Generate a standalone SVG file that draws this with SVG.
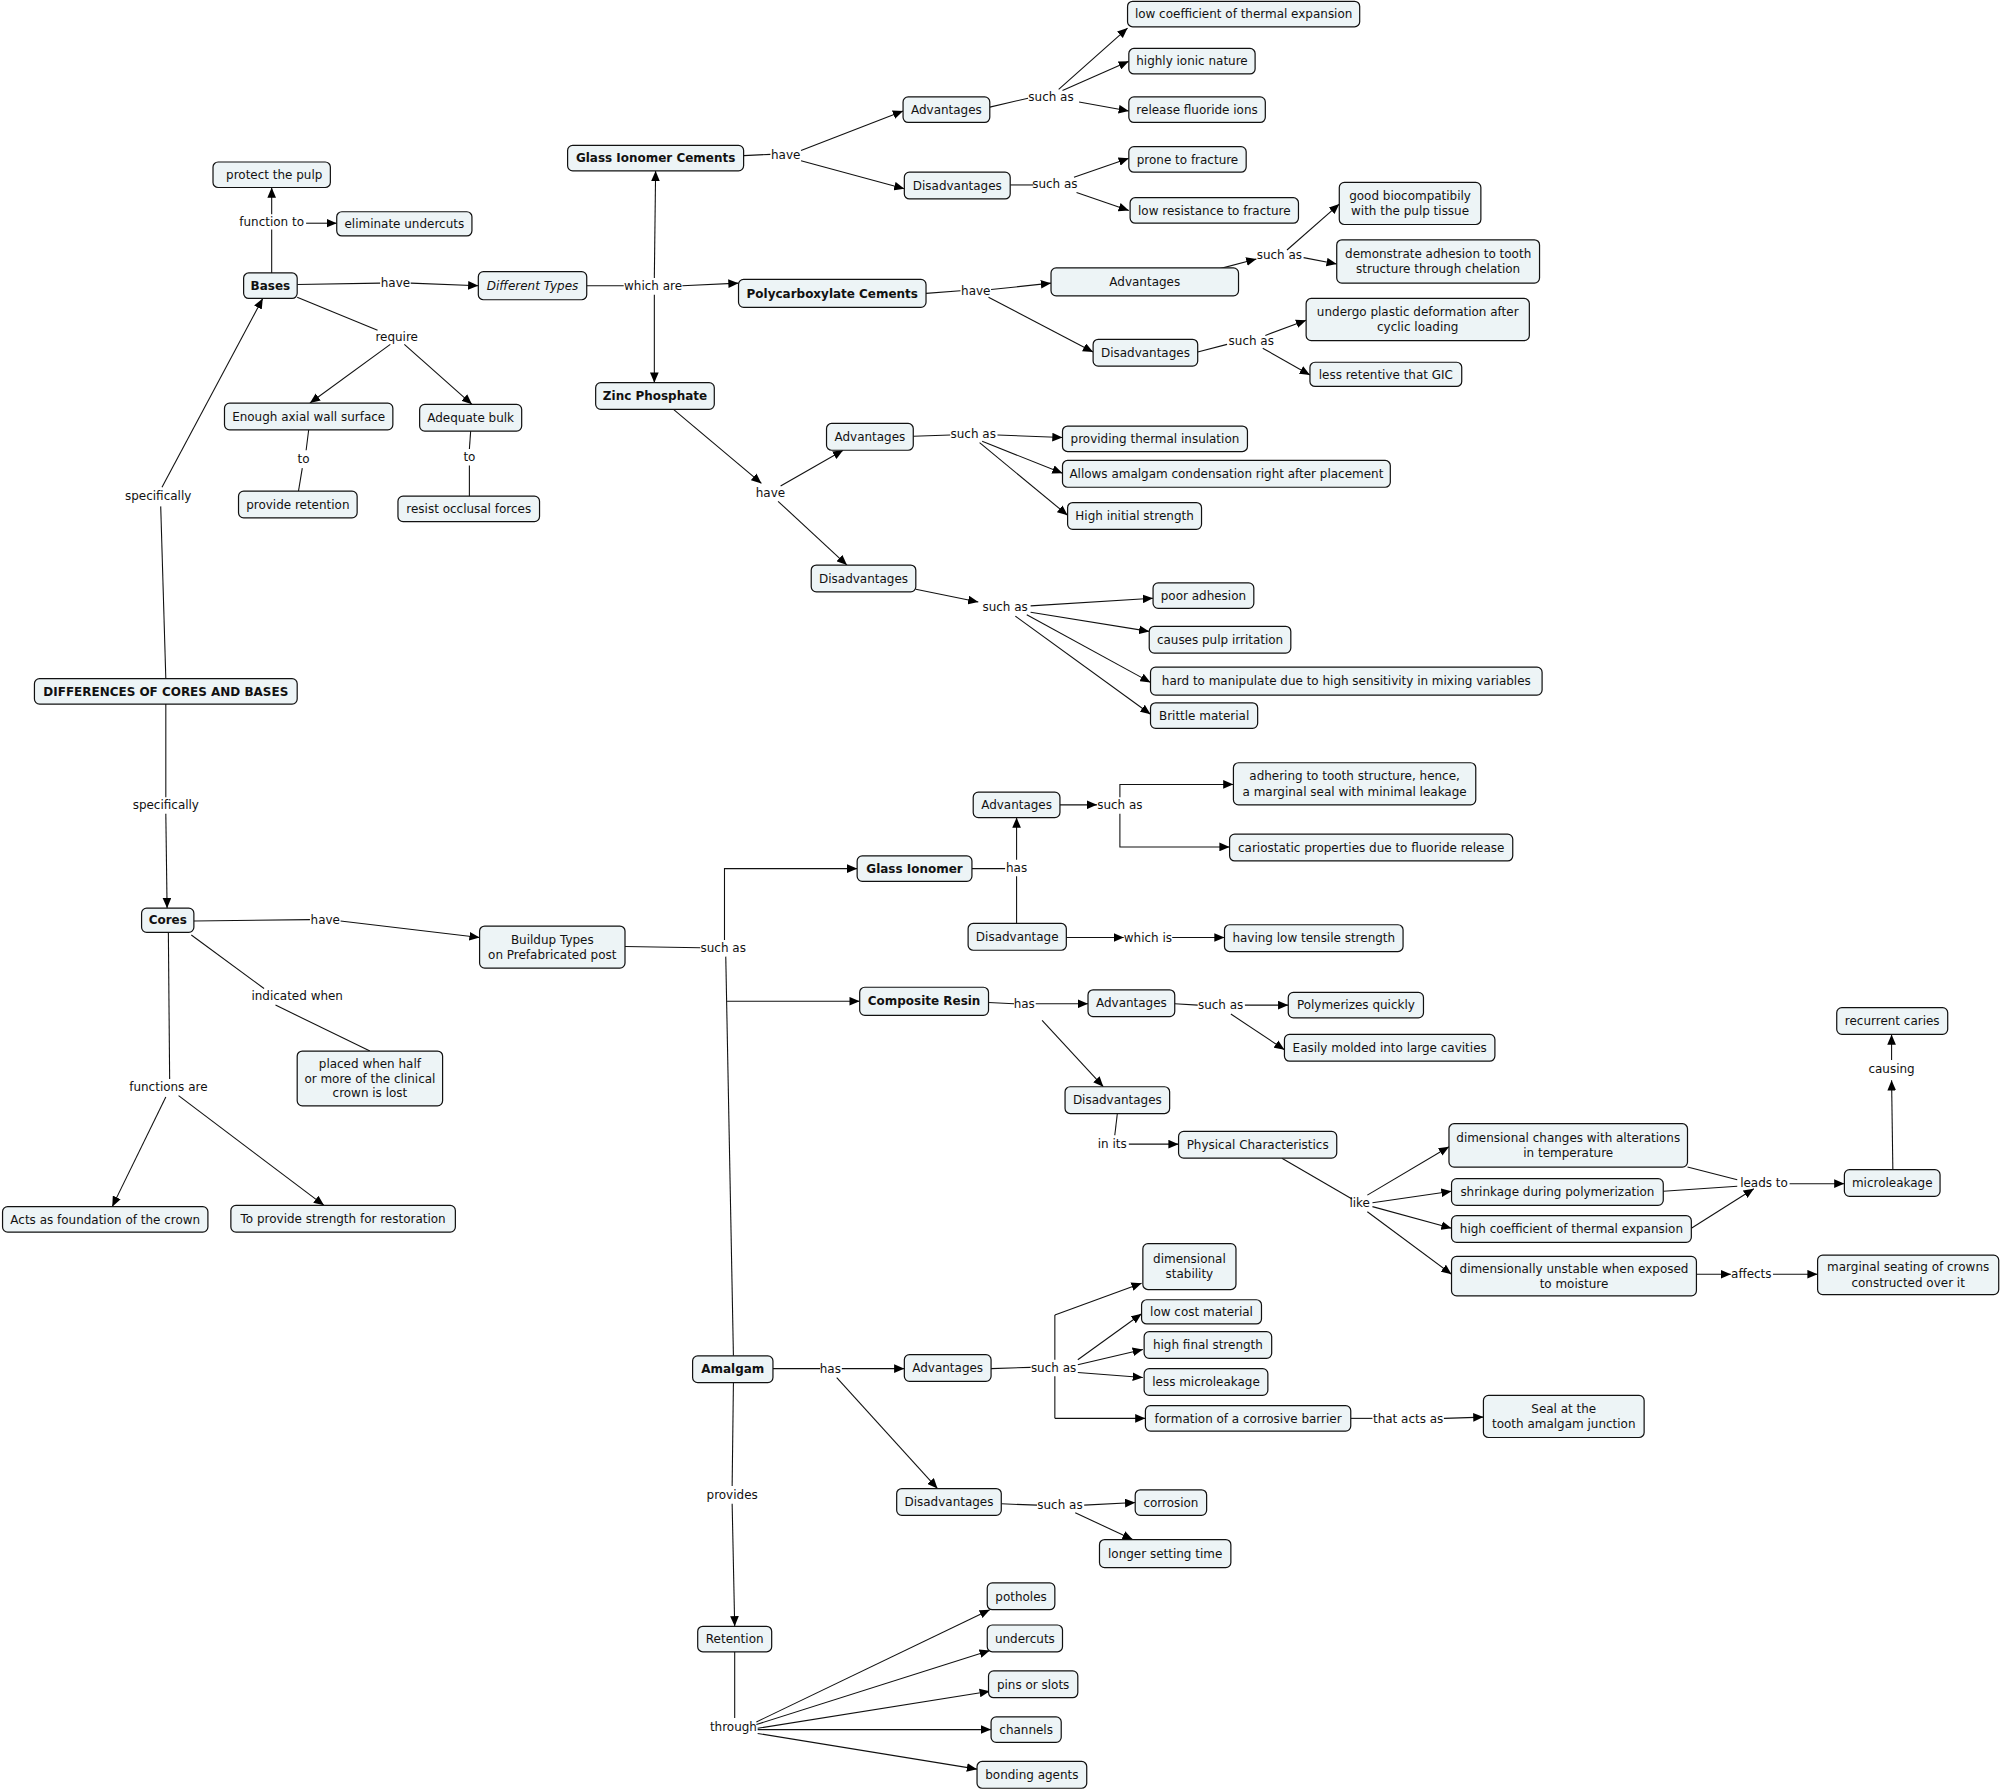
<svg xmlns="http://www.w3.org/2000/svg" width="2000" height="1792" viewBox="0 0 2000 1792">
<defs>
<style>
.n rect{fill:#edf4f6;stroke:#111;stroke-width:0.95}
text{font-family:"DejaVu Sans",Verdana,sans-serif;font-size:9.4px;fill:#111;text-anchor:middle}
.b{font-weight:bold}
.i{font-style:italic}
.l{fill:none;stroke:#111;stroke-width:0.85}
.a{marker-end:url(#ah)}
</style>
<marker id="ah" markerUnits="userSpaceOnUse" markerWidth="8" markerHeight="7" refX="8" refY="3.4" orient="auto" viewBox="0 0 8 6.8">
<path d="M0,0 L8,3.4 L0,6.8 z" fill="#000"/>
</marker>
</defs>
<rect width="2000" height="1792" fill="#fff"/>
<g transform="scale(1.27551)">
<g id="connectors">
<path class="l" d="M213,214 L213,180"/>
<path class="l" d="M233,223 L298,222"/>
<path class="l" d="M233,233 L296,259"/>
<path class="l" d="M242,337 L240,353"/>
<path class="l" d="M237,367 L234,385"/>
<path class="l" d="M369,338 L368,352"/>
<path class="l" d="M368,365 L368,389"/>
<path class="l" d="M460,224 L489,224"/>
<path class="l" d="M130,532 L126,397"/>
<path class="l" d="M130,552 L130,625"/>
<path class="l" d="M152,722 L243,721"/>
<path class="l" d="M150,733 L207,775"/>
<path class="l" d="M216,788 L290,824"/>
<path class="l" d="M132,731 L133,846"/>
<path class="l" d="M490,742 L549,743"/>
<path class="l" d="M569,750 L575,1063"/>
<path class="l" d="M762,681 L788,681"/>
<path class="l" d="M797,724 L797,687"/>
<path class="l" d="M776,84 L806,77"/>
<path class="l" d="M583,122 L604,121"/>
<path class="l" d="M792,145 L810,145"/>
<path class="l" d="M726,230 L753,228"/>
<path class="l" d="M939,276 L962,270"/>
<path class="l" d="M716,342 L745,341"/>
<path class="l" d="M775,786 L795,787"/>
<path class="l" d="M921,787 L939,788"/>
<path class="l" d="M876,873 L874,890"/>
<path class="l" d="M1005,908 L1060,940"/>
<path class="l" d="M1323,915 L1362,925"/>
<path class="l" d="M1304,934 L1362,930"/>
<path class="l" d="M606,1073 L643,1073"/>
<path class="l" d="M777,1073 L808,1072"/>
<path class="l" d="M1059,1112 L1076,1112"/>
<path class="l" d="M785,1179 L813,1180"/>
<path class="l" d="M575,1084 L574,1165"/>
<path class="l" d="M576,1295 L576,1347"/>
<path class="l" d="M827,1031 L827,1066"/>
<path class="l" d="M827,1079 L827,1112"/>

<path class="l a" d="M213,168 L213,147"/>
<path class="l a" d="M240,175 L264,175"/>
<path class="l a" d="M322,222 L375,224"/>
<path class="l a" d="M306,270 L243,316"/>
<path class="l a" d="M317,270 L370,317"/>
<path class="l a" d="M535,224 L579,222"/>
<path class="l a" d="M513,218 L514,134"/>
<path class="l a" d="M513,231 L513,300"/>
<path class="l a" d="M127,382 L206,234"/>
<path class="l a" d="M130,638 L131,712"/>
<path class="l a" d="M267,722 L376,735"/>
<path class="l a" d="M130,860 L88,946"/>
<path class="l a" d="M140,859 L254,945"/>
<path class="l a" d="M568,737 L568,681 L672,681"/>
<path class="l a" d="M570,785 L674,785"/>
<path class="l a" d="M797,674 L797,641"/>
<path class="l a" d="M831,631 L860,631"/>
<path class="l a" d="M878,625 L878,615 L967,615"/>
<path class="l a" d="M878,638 L878,664 L964,664"/>
<path class="l a" d="M836,735 L881,735"/>
<path class="l a" d="M919,735 L960,735"/>
<path class="l a" d="M812,787 L853,787"/>
<path class="l a" d="M817,800 L865,852"/>
<path class="l a" d="M976,788 L1010,788"/>
<path class="l a" d="M965,795 L1007,823"/>
<path class="l a" d="M885,897 L924,897"/>
<path class="l a" d="M1072,937 L1136,899"/>
<path class="l a" d="M1076,943 L1138,934"/>
<path class="l a" d="M1076,946 L1138,963"/>
<path class="l a" d="M1072,950 L1138,999"/>
<path class="l a" d="M1326,963 L1375,932"/>
<path class="l a" d="M1403,928 L1446,928"/>
<path class="l a" d="M1484,917 L1483,847"/>
<path class="l a" d="M1483,831 L1483,811"/>
<path class="l a" d="M1330,999 L1357,999"/>
<path class="l a" d="M1390,999 L1425,999"/>
<path class="l a" d="M660,1073 L709,1073"/>
<path class="l a" d="M656,1080 L735,1167"/>
<path class="l a" d="M827,1031 L895,1006"/>
<path class="l a" d="M845,1066 L895,1030"/>
<path class="l a" d="M845,1070 L896,1058"/>
<path class="l a" d="M845,1076 L896,1080"/>
<path class="l a" d="M827,1112 L898,1112"/>
<path class="l a" d="M1132,1112 L1163,1111"/>
<path class="l a" d="M850,1180 L890,1178"/>
<path class="l a" d="M843,1186 L888,1207"/>
<path class="l a" d="M574,1179 L576,1275"/>
<path class="l a" d="M593,1350 L776,1262"/>
<path class="l a" d="M593,1352 L776,1294"/>
<path class="l a" d="M594,1355 L776,1326"/>
<path class="l a" d="M594,1356 L777,1356"/>
<path class="l a" d="M594,1359 L766,1387"/>
<path class="l a" d="M528,321 L597,379"/>
<path class="l a" d="M612,381 L661,353"/>
<path class="l a" d="M610,393 L664,443"/>
<path class="l a" d="M782,341 L833,343"/>
<path class="l a" d="M770,346 L833,371"/>
<path class="l a" d="M768,347 L837,404"/>
<path class="l a" d="M718,462 L767,472"/>
<path class="l a" d="M808,475 L904,469"/>
<path class="l a" d="M808,480 L901,495"/>
<path class="l a" d="M805,482 L902,535"/>
<path class="l a" d="M796,483 L902,560"/>
<path class="l a" d="M628,118 L708,87"/>
<path class="l a" d="M628,126 L709,148"/>
<path class="l a" d="M830,70 L884,22"/>
<path class="l a" d="M833,71 L885,48"/>
<path class="l a" d="M846,80 L885,87"/>
<path class="l a" d="M842,139 L885,124"/>
<path class="l a" d="M844,151 L885,165"/>
<path class="l a" d="M777,227 L824,222"/>
<path class="l a" d="M775,233 L857,276"/>
<path class="l a" d="M955,211 L985,203"/>
<path class="l a" d="M1009,196 L1050,160"/>
<path class="l a" d="M1022,202 L1048,207"/>
<path class="l a" d="M992,263 L1024,251"/>
<path class="l a" d="M990,273 L1027,294"/>

<g id="labels">
<text x="213" y="177.3">function to</text>
<text x="310" y="225.3">have</text>
<text x="311" y="267.3">require</text>
<text x="238" y="363.3">to</text>
<text x="368" y="361.3">to</text>
<text x="512" y="227.3">which are</text>
<text x="124" y="392.3">specifically</text>
<text x="130" y="634.3">specifically</text>
<text x="255" y="724.3">have</text>
<text x="233" y="784.3">indicated when</text>
<text x="132" y="855.3">functions are</text>
<text x="567" y="746.3">such as</text>
<text x="797" y="683.3">has</text>
<text x="878" y="634.3">such as</text>
<text x="900" y="738.3">which is</text>
<text x="803" y="790.3">has</text>
<text x="957" y="791.3">such as</text>
<text x="872" y="900.3">in its</text>
<text x="1066" y="946.3">like</text>
<text x="1383" y="930.3">leads to</text>
<text x="1483" y="841.3">causing</text>
<text x="1373" y="1002.3">affects</text>
<text x="651" y="1076.3">has</text>
<text x="826" y="1075.3">such as</text>
<text x="1104" y="1115.3">that acts as</text>
<text x="831" y="1183.3">such as</text>
<text x="574" y="1175.3">provides</text>
<text x="575" y="1357.3">through</text>
<text x="604" y="389.3">have</text>
<text x="763" y="343.3">such as</text>
<text x="788" y="479.3">such as</text>
<text x="616" y="124.3">have</text>
<text x="824" y="79.3">such as</text>
<text x="827" y="147.3">such as</text>
<text x="765" y="231.3">have</text>
<text x="1003" y="203.3">such as</text>
<text x="981" y="270.3">such as</text>
</g>
</g>

<g id="nodes">
<g id="n-protect" class="n"><rect x="167" y="127" width="92" height="20" rx="4"/><text x="215" y="140.3">protect the pulp</text></g>
<g id="n-eliminate" class="n"><rect x="264" y="166" width="106" height="19" rx="4"/><text x="317" y="178.8">eliminate undercuts</text></g>
<g id="n-bases" class="n"><rect x="191" y="214" width="42" height="20" rx="4"/><text class="b" x="212" y="227.3">Bases</text></g>
<g id="n-difftypes" class="n"><rect x="375" y="213" width="85" height="22" rx="4"/><text class="i" x="417.5" y="227.3">Different Types</text></g>
<g id="n-enough" class="n"><rect x="176" y="316" width="132" height="21" rx="4"/><text x="242" y="329.8">Enough axial wall surface</text></g>
<g id="n-adequate" class="n"><rect x="329" y="317" width="80" height="21" rx="4"/><text x="369" y="330.8">Adequate bulk</text></g>
<g id="n-provret" class="n"><rect x="187" y="385" width="93" height="21" rx="4"/><text x="233.5" y="398.8">provide retention</text></g>
<g id="n-resist" class="n"><rect x="312" y="389" width="111" height="20" rx="4"/><text x="367.5" y="402.3">resist occlusal forces</text></g>
<g id="n-diff" class="n"><rect x="27" y="532" width="206" height="20" rx="4"/><text class="b" x="130" y="545.3">DIFFERENCES OF CORES AND BASES</text></g>
<g id="n-cores" class="n"><rect x="111" y="712" width="41" height="19" rx="4"/><text class="b" x="131.5" y="724.8">Cores</text></g>
<g id="n-buildup" class="n"><rect x="376" y="726" width="114" height="33" rx="4"/><text x="433" y="739.8">Buildup Types</text><text x="433" y="751.8">on Prefabricated post</text></g>
<g id="n-placed" class="n"><rect x="233" y="824" width="114" height="43" rx="4"/><text x="290" y="837.3">placed when half</text><text x="290" y="848.8">or more of the clinical</text><text x="290" y="860.3">crown is lost</text></g>
<g id="n-acts" class="n"><rect x="2" y="946" width="161" height="20" rx="4"/><text x="82.5" y="959.3">Acts as foundation of the crown</text></g>
<g id="n-strength" class="n"><rect x="181" y="945" width="176" height="21" rx="4"/><text x="269" y="958.8">To provide strength for restoration</text></g>
<g id="n-gic" class="n"><rect x="445" y="114" width="138" height="20" rx="4"/><text class="b" x="514" y="127.3">Glass Ionomer Cements</text></g>
<g id="n-zp" class="n"><rect x="467" y="300" width="93" height="21" rx="4"/><text class="b" x="513.5" y="313.8">Zinc Phosphate</text></g>
<g id="n-pc" class="n"><rect x="579" y="219" width="147" height="22" rx="4"/><text class="b" x="652.5" y="233.3">Polycarboxylate Cements</text></g>
<g id="n-gic-adv" class="n"><rect x="708" y="76" width="68" height="20" rx="4"/><text x="742" y="89.3">Advantages</text></g>
<g id="n-gic-dis" class="n"><rect x="709" y="135" width="83" height="21" rx="4"/><text x="750.5" y="148.8">Disadvantages</text></g>
<g id="n-lowcoef" class="n"><rect x="884" y="1" width="182" height="20" rx="4"/><text x="975" y="14.3">low coefficient of thermal expansion</text></g>
<g id="n-ionic" class="n"><rect x="885" y="38" width="99" height="20" rx="4"/><text x="934.5" y="51.3">highly ionic nature</text></g>
<g id="n-fluoride" class="n"><rect x="885" y="76" width="107" height="20" rx="4"/><text x="938.5" y="89.3">release fluoride ions</text></g>
<g id="n-prone" class="n"><rect x="885" y="115" width="92" height="20" rx="4"/><text x="931" y="128.3">prone to fracture</text></g>
<g id="n-lowres" class="n"><rect x="886" y="155" width="132" height="20" rx="4"/><text x="952" y="168.3">low resistance to fracture</text></g>
<g id="n-pc-adv" class="n"><rect x="824" y="210" width="147" height="22" rx="4"/><text x="897.5" y="224.3">Advantages</text></g>
<g id="n-pc-dis" class="n"><rect x="857" y="266" width="82" height="21" rx="4"/><text x="898" y="279.8">Disadvantages</text></g>
<g id="n-biocomp" class="n"><rect x="1050" y="143" width="111" height="33" rx="4"/><text x="1105.5" y="156.8">good biocompatibily</text><text x="1105.5" y="168.8">with the pulp tissue</text></g>
<g id="n-chelation" class="n"><rect x="1048" y="188" width="159" height="34" rx="4"/><text x="1127.5" y="202.3">demonstrate adhesion to tooth</text><text x="1127.5" y="214.3">structure through chelation</text></g>
<g id="n-plastic" class="n"><rect x="1024" y="234" width="175" height="33" rx="4"/><text x="1111.5" y="247.8">undergo plastic deformation after</text><text x="1111.5" y="259.8">cyclic loading</text></g>
<g id="n-lessret" class="n"><rect x="1027" y="284" width="119" height="19" rx="4"/><text x="1086.5" y="296.8">less retentive that GIC</text></g>
<g id="n-zp-adv" class="n"><rect x="648" y="332" width="68" height="21" rx="4"/><text x="682" y="345.8">Advantages</text></g>
<g id="n-zp-dis" class="n"><rect x="636" y="443" width="82" height="21" rx="4"/><text x="677" y="456.8">Disadvantages</text></g>
<g id="n-thermins" class="n"><rect x="833" y="334" width="145" height="20" rx="4"/><text x="905.5" y="347.3">providing thermal insulation</text></g>
<g id="n-allows" class="n"><rect x="833" y="361" width="257" height="21" rx="4"/><text x="961.5" y="374.8">Allows amalgam condensation right after placement</text></g>
<g id="n-highinit" class="n"><rect x="837" y="394" width="105" height="21" rx="4"/><text x="889.5" y="407.8">High initial strength</text></g>
<g id="n-pooradh" class="n"><rect x="904" y="457" width="79" height="20" rx="4"/><text x="943.5" y="470.3">poor adhesion</text></g>
<g id="n-pulpirr" class="n"><rect x="901" y="491" width="111" height="21" rx="4"/><text x="956.5" y="504.8">causes pulp irritation</text></g>
<g id="n-hard" class="n"><rect x="902" y="523" width="307" height="22" rx="4"/><text x="1055.5" y="537.3">hard to manipulate due to high sensitivity in mixing variables</text></g>
<g id="n-brittle" class="n"><rect x="902" y="551" width="84" height="20" rx="4"/><text x="944" y="564.3">Brittle material</text></g>
<g id="n-gi" class="n"><rect x="672" y="671" width="90" height="20" rx="4"/><text class="b" x="717" y="684.3">Glass Ionomer</text></g>
<g id="n-gi-adv" class="n"><rect x="763" y="621" width="68" height="20" rx="4"/><text x="797" y="634.3">Advantages</text></g>
<g id="n-adhering" class="n"><rect x="967" y="598" width="190" height="33" rx="4"/><text x="1062" y="611.8">adhering to tooth structure, hence,</text><text x="1062" y="623.8">a marginal seal with minimal leakage</text></g>
<g id="n-cariostatic" class="n"><rect x="964" y="654" width="222" height="21" rx="4"/><text x="1075" y="667.8">cariostatic properties due to fluoride release</text></g>
<g id="n-gi-dis" class="n"><rect x="759" y="724" width="77" height="21" rx="4"/><text x="797.5" y="737.8">Disadvantage</text></g>
<g id="n-tensile" class="n"><rect x="960" y="725" width="140" height="21" rx="4"/><text x="1030" y="738.8">having low tensile strength</text></g>
<g id="n-cr" class="n"><rect x="674" y="774" width="101" height="22" rx="4"/><text class="b" x="724.5" y="788.3">Composite Resin</text></g>
<g id="n-cr-adv" class="n"><rect x="853" y="776" width="68" height="21" rx="4"/><text x="887" y="789.8">Advantages</text></g>
<g id="n-polyq" class="n"><rect x="1010" y="778" width="106" height="20" rx="4"/><text x="1063" y="791.3">Polymerizes quickly</text></g>
<g id="n-molded" class="n"><rect x="1007" y="811" width="165" height="21" rx="4"/><text x="1089.5" y="824.8">Easily molded into large cavities</text></g>
<g id="n-cr-dis" class="n"><rect x="835" y="852" width="82" height="21" rx="4"/><text x="876" y="865.8">Disadvantages</text></g>
<g id="n-physchar" class="n"><rect x="924" y="887" width="124" height="21" rx="4"/><text x="986" y="900.8">Physical Characteristics</text></g>
<g id="n-dimchg" class="n"><rect x="1136" y="881" width="187" height="34" rx="4"/><text x="1229.5" y="895.3">dimensional changes with alterations</text><text x="1229.5" y="907.3">in temperature</text></g>
<g id="n-shrink" class="n"><rect x="1138" y="924" width="166" height="21" rx="4"/><text x="1221" y="937.8">shrinkage during polymerization</text></g>
<g id="n-highcoef" class="n"><rect x="1138" y="953" width="188" height="21" rx="4"/><text x="1232" y="966.8">high coefficient of thermal expansion</text></g>
<g id="n-unstable" class="n"><rect x="1138" y="985" width="192" height="31" rx="4"/><text x="1234" y="997.8">dimensionally unstable when exposed</text><text x="1234" y="1009.8">to moisture</text></g>
<g id="n-microleak" class="n"><rect x="1446" y="917" width="75" height="21" rx="4"/><text x="1483.5" y="930.8">microleakage</text></g>
<g id="n-caries" class="n"><rect x="1440" y="790" width="87" height="21" rx="4"/><text x="1483.5" y="803.8">recurrent caries</text></g>
<g id="n-marginal" class="n"><rect x="1425" y="984" width="142" height="31" rx="4"/><text x="1496" y="996.8">marginal seating of crowns</text><text x="1496" y="1008.8">constructed over it</text></g>
<g id="n-amalgam" class="n"><rect x="543" y="1063" width="63" height="21" rx="4"/><text class="b" x="574.5" y="1076.8">Amalgam</text></g>
<g id="n-am-adv" class="n"><rect x="709" y="1062" width="68" height="21" rx="4"/><text x="743" y="1075.8">Advantages</text></g>
<g id="n-dimstab" class="n"><rect x="896" y="975" width="73" height="36" rx="4"/><text x="932.5" y="990.3">dimensional</text><text x="932.5" y="1002.3">stability</text></g>
<g id="n-lowcost" class="n"><rect x="895" y="1019" width="94" height="19" rx="4"/><text x="942" y="1031.8">low cost material</text></g>
<g id="n-highfinal" class="n"><rect x="897" y="1044" width="100" height="21" rx="4"/><text x="947" y="1057.8">high final strength</text></g>
<g id="n-lessmicro" class="n"><rect x="897" y="1073" width="97" height="21" rx="4"/><text x="945.5" y="1086.8">less microleakage</text></g>
<g id="n-formation" class="n"><rect x="898" y="1102" width="161" height="20" rx="4"/><text x="978.5" y="1115.3">formation of a corrosive barrier</text></g>
<g id="n-seal" class="n"><rect x="1163" y="1094" width="126" height="33" rx="4"/><text x="1226" y="1107.8">Seal at the</text><text x="1226" y="1119.8">tooth amalgam junction</text></g>
<g id="n-am-dis" class="n"><rect x="703" y="1167" width="82" height="21" rx="4"/><text x="744" y="1180.8">Disadvantages</text></g>
<g id="n-corrosion" class="n"><rect x="890" y="1168" width="56" height="20" rx="4"/><text x="918" y="1181.3">corrosion</text></g>
<g id="n-longer" class="n"><rect x="862" y="1207" width="103" height="22" rx="4"/><text x="913.5" y="1221.3">longer setting time</text></g>
<g id="n-retention" class="n"><rect x="547" y="1275" width="58" height="20" rx="4"/><text x="576" y="1288.3">Retention</text></g>
<g id="n-potholes" class="n"><rect x="774" y="1241" width="53" height="21" rx="4"/><text x="800.5" y="1254.8">potholes</text></g>
<g id="n-undercuts" class="n"><rect x="774" y="1274" width="59" height="21" rx="4"/><text x="803.5" y="1287.8">undercuts</text></g>
<g id="n-pins" class="n"><rect x="775" y="1310" width="70" height="21" rx="4"/><text x="810" y="1323.8">pins or slots</text></g>
<g id="n-channels" class="n"><rect x="777" y="1346" width="55" height="20" rx="4"/><text x="804.5" y="1359.3">channels</text></g>
<g id="n-bonding" class="n"><rect x="766" y="1381" width="86" height="21" rx="4"/><text x="809" y="1394.8">bonding agents</text></g>
</g>
</g>
</svg>
